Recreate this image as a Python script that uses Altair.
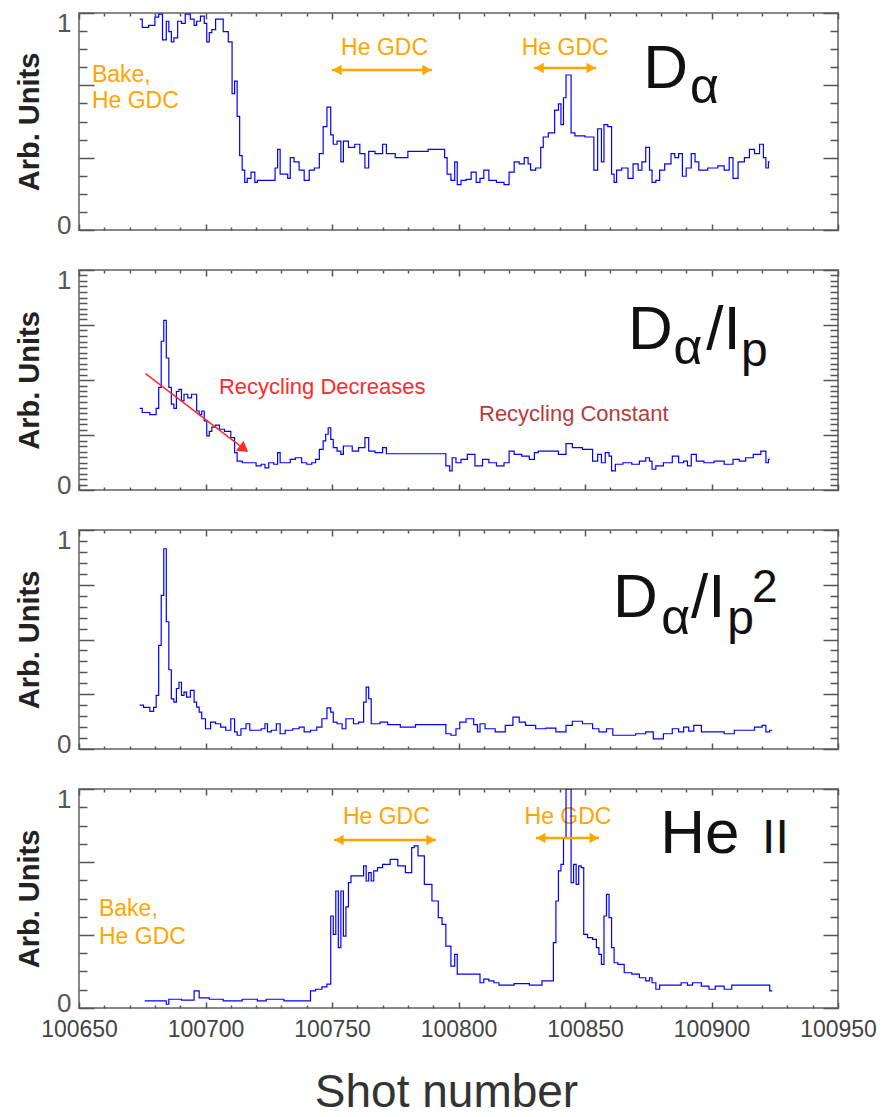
import altair as alt
import pandas as pd

# ------------------------------------------------------------------ data
shot_da = [100674, 100676, 100679, 100681, 100682, 100684, 100685, 100686, 100687, 100688,
           100690, 100691, 100693, 100695, 100696, 100697, 100699, 100700, 100701, 100702,
           100703, 100705, 100706, 100708, 100710, 100711, 100712, 100713, 100714, 100715,
           100716, 100717, 100719, 100720, 100721, 100727, 100728, 100729, 100730, 100732,
           100733, 100734, 100736, 100738, 100740, 100742, 100744, 100746, 100747, 100749,
           100750, 100751, 100753, 100754, 100755, 100758, 100760, 100762, 100764, 100765,
           100769, 100771, 100772, 100778, 100782, 100794, 100795, 100796, 100798, 100799,
           100800, 100802, 100804, 100806, 100808, 100809, 100811, 100813, 100817, 100819,
           100821, 100823, 100825, 100827, 100828, 100829, 100832, 100833, 100834, 100837,
           100839, 100840, 100841, 100842, 100843, 100844, 100845, 100847, 100853, 100854,
           100856, 100857, 100858, 100860, 100861, 100862, 100863, 100866, 100868, 100870,
           100872, 100873, 100875, 100876, 100877, 100879, 100880, 100883, 100885, 100886,
           100888, 100889, 100891, 100893, 100894, 100896, 100901, 100904, 100906, 100908,
           100909, 100912, 100914, 100916, 100918, 100920, 100921, 100922, 100923]
val_da = [1.02, 0.98, 0.99, 1.03, 1.045, 0.92, 1.01, 0.96, 0.91, 0.93,
          1.01, 1.00, 1.045, 1.02, 0.99, 1.01, 1.035, 1.00, 0.91, 0.955,
          0.97, 1.02, 1.02, 0.96, 0.91, 0.66, 0.72, 0.55, 0.36, 0.29,
          0.23, 0.25, 0.28, 0.23, 0.24, 0.24, 0.30, 0.39, 0.27, 0.27,
          0.25, 0.35, 0.33, 0.29, 0.24, 0.29, 0.30, 0.37, 0.50, 0.595,
          0.46, 0.415, 0.43, 0.33, 0.43, 0.40, 0.415, 0.37, 0.30, 0.38,
          0.37, 0.415, 0.37, 0.35, 0.38, 0.39, 0.35, 0.27, 0.24, 0.33,
          0.22, 0.24, 0.245, 0.28, 0.23, 0.25, 0.29, 0.24, 0.23, 0.22,
          0.28, 0.33, 0.32, 0.35, 0.32, 0.29, 0.30, 0.40, 0.45, 0.47,
          0.58, 0.61, 0.51, 0.64, 0.75, 0.75, 0.47, 0.455, 0.45, 0.29,
          0.49, 0.33, 0.51, 0.50, 0.27, 0.23, 0.29, 0.30, 0.25, 0.32,
          0.29, 0.33, 0.40, 0.29, 0.23, 0.24, 0.29, 0.32, 0.37, 0.35,
          0.37, 0.26, 0.30, 0.37, 0.33, 0.29, 0.30, 0.31, 0.29, 0.35,
          0.25, 0.33, 0.35, 0.39, 0.37, 0.415, 0.35, 0.30, 0.33]

shot_dip = [100674, 100676, 100680, 100681, 100682, 100683, 100684, 100685, 100686, 100687,
            100688, 100689, 100690, 100691, 100692, 100694, 100695, 100696, 100697, 100698,
            100699, 100700, 100701, 100702, 100703, 100705, 100706, 100709, 100711, 100712,
            100713, 100716, 100719, 100721, 100723, 100724, 100726, 100728, 100729, 100730,
            100733, 100734, 100737, 100739, 100741, 100743, 100744, 100746, 100747, 100748,
            100749, 100750, 100751, 100753, 100754, 100755, 100757, 100759, 100762, 100764,
            100765, 100769, 100771, 100772, 100794, 100796, 100797, 100798, 100800, 100802,
            100805, 100808, 100811, 100813, 100817, 100819, 100821, 100823, 100827, 100829,
            100831, 100832, 100838, 100841, 100844, 100846, 100852, 100854, 100856, 100857,
            100859, 100860, 100861, 100863, 100867, 100870, 100873, 100875, 100876, 100877,
            100879, 100883, 100886, 100888, 100890, 100891, 100893, 100895, 100899, 100903,
            100907, 100910, 100912, 100915, 100918, 100921, 100922, 100923]
val_dip = [0.39, 0.37, 0.36, 0.39, 0.49, 0.71, 0.81, 0.63, 0.49, 0.41,
           0.39, 0.47, 0.48, 0.425, 0.457, 0.44, 0.457, 0.457, 0.377, 0.36,
           0.377, 0.33, 0.258, 0.28, 0.30, 0.31, 0.29, 0.28, 0.25, 0.178,
           0.138, 0.13, 0.13, 0.115, 0.123, 0.106, 0.13, 0.123, 0.178, 0.13,
           0.13, 0.146, 0.154, 0.13, 0.123, 0.13, 0.146, 0.194, 0.234, 0.266,
           0.297, 0.242, 0.202, 0.186, 0.17, 0.21, 0.21, 0.186, 0.202, 0.25,
           0.186, 0.178, 0.202, 0.173, 0.173, 0.115, 0.091, 0.154, 0.13, 0.146,
           0.17, 0.115, 0.146, 0.13, 0.115, 0.13, 0.186, 0.17, 0.162, 0.146,
           0.178, 0.186, 0.186, 0.17, 0.221, 0.202, 0.194, 0.138, 0.17, 0.13,
           0.178, 0.162, 0.091, 0.123, 0.13, 0.123, 0.138, 0.154, 0.138, 0.099,
           0.115, 0.13, 0.162, 0.13, 0.138, 0.115, 0.17, 0.138, 0.13, 0.138,
           0.123, 0.146, 0.138, 0.154, 0.17, 0.186, 0.13, 0.146]

shot_dip2 = [100674, 100677, 100679, 100680, 100681, 100682, 100683, 100684, 100685, 100686,
             100687, 100688, 100689, 100690, 100691, 100692, 100693, 100695, 100696, 100697,
             100698, 100699, 100701, 100703, 100705, 100707, 100709, 100711, 100712, 100713,
             100715, 100717, 100718, 100721, 100723, 100724, 100725, 100727, 100729, 100730,
             100733, 100736, 100738, 100740, 100743, 100745, 100747, 100749, 100750, 100751,
             100753, 100755, 100756, 100758, 100759, 100762, 100763, 100764, 100765, 100766,
             100767, 100771, 100773, 100781, 100785, 100794, 100796, 100798, 100800, 100801,
             100805, 100807, 100808, 100809, 100812, 100817, 100820, 100823, 100825, 100828,
             100833, 100836, 100841, 100844, 100846, 100852, 100854, 100857, 100860, 100862,
             100867, 100873, 100875, 100879, 100883, 100886, 100888, 100890, 100892, 100894,
             100898, 100903, 100907, 100911, 100915, 100919, 100921, 100922, 100924]
val_dip2 = [0.21, 0.20, 0.18, 0.20, 0.257, 0.497, 0.737, 0.96, 0.61, 0.38,
            0.24, 0.225, 0.29, 0.32, 0.257, 0.273, 0.249, 0.281, 0.225, 0.201,
            0.177, 0.145, 0.097, 0.129, 0.121, 0.105, 0.09, 0.145, 0.082, 0.066,
            0.097, 0.121, 0.09, 0.09, 0.097, 0.121, 0.082, 0.09, 0.121, 0.073,
            0.09, 0.097, 0.105, 0.082, 0.09, 0.105, 0.145, 0.197, 0.177, 0.129,
            0.121, 0.097, 0.145, 0.145, 0.121, 0.129, 0.225, 0.297, 0.241, 0.121,
            0.121, 0.129, 0.117, 0.105, 0.117, 0.117, 0.073, 0.066, 0.097, 0.129,
            0.145, 0.117, 0.082, 0.121, 0.097, 0.082, 0.113, 0.153, 0.129, 0.113,
            0.097, 0.10, 0.082, 0.113, 0.133, 0.121, 0.097, 0.082, 0.097, 0.066,
            0.066, 0.073, 0.082, 0.049, 0.073, 0.097, 0.082, 0.105, 0.086, 0.113,
            0.082, 0.082, 0.073, 0.09, 0.09, 0.105, 0.113, 0.082, 0.09]

shot_he = [100676, 100684, 100685, 100686, 100695, 100696, 100697, 100698, 100705, 100709,
           100720, 100721, 100727, 100730, 100732, 100741, 100742, 100745, 100747, 100749,
           100750, 100751, 100752, 100753, 100754, 100755, 100756, 100757, 100758, 100762,
           100763, 100764, 100765, 100766, 100767, 100769, 100771, 100775, 100777, 100781,
           100782, 100783, 100785, 100788, 100791, 100793, 100794, 100796, 100798, 100799,
           100800, 100808, 100809, 100811, 100813, 100815, 100817, 100827, 100829, 100837,
           100838, 100839, 100840, 100841, 100842, 100843, 100844, 100845, 100846, 100847,
           100848, 100849, 100850, 100852, 100854, 100855, 100856, 100857, 100858, 100859,
           100860, 100861, 100862, 100864, 100867, 100870, 100873, 100875, 100876, 100877,
           100879, 100880, 100886, 100890, 100891, 100894, 100898, 100900, 100903, 100907,
           100909, 100922, 100924]
val_he = [0.034, 0.034, 0.018, 0.042, 0.038, 0.082, 0.082, 0.049, 0.042, 0.034,
          0.042, 0.034, 0.042, 0.042, 0.034, 0.034, 0.082, 0.09, 0.101, 0.114,
          0.441, 0.353, 0.561, 0.289, 0.561, 0.345, 0.485, 0.601, 0.633, 0.633,
          0.681, 0.609, 0.649, 0.609, 0.657, 0.673, 0.689, 0.713, 0.681, 0.649,
          0.769, 0.777, 0.729, 0.593, 0.513, 0.433, 0.401, 0.297, 0.201, 0.257,
          0.162, 0.162, 0.121, 0.138, 0.13, 0.121, 0.11, 0.117, 0.11, 0.13,
          0.313, 0.513, 0.657, 0.689, 0.817, 1.05, 1.05, 0.601, 0.689, 0.593,
          0.681, 0.673, 0.353, 0.337, 0.329, 0.289, 0.257, 0.209, 0.441, 0.545,
          0.433, 0.289, 0.217, 0.209, 0.169, 0.162, 0.145, 0.13, 0.145, 0.121,
          0.09, 0.11, 0.11, 0.121, 0.11, 0.121, 0.105, 0.09, 0.105, 0.09,
          0.11, 0.11, 0.082]

x_tick_values = list(range(100650, 100951, 10))

# ------------------------------------------------------------------ style
XMIN, XMAX = 100650, 100950
YTOP = 1.05
W = 759
FONT = "Liberation Sans"
ORANGE = "#FFA500"
BLUE = "#0000FF"
BLACK = "#111111"
RED = "#FF2A2A"
DARKRED = "#B83A3A"
TICKC = "#555555"

xscale = alt.Scale(domain=[XMIN, XMAX], nice=False, zero=False)
yscale = alt.Scale(domain=[0, YTOP], nice=False, zero=False)


def y_axis(n, m, maj, mnr):
    ticks = [YTOP * k / n for k in range(n + 1)] + [1.0]
    major = YTOP * m / n
    shown = "(abs(datum.value - 1) < 0.0001 || datum.value == 0)"
    return alt.Axis(
        values=ticks, grid=True, ticks=False, domain=False,
        gridColor=TICKC, gridWidth=1.5,
        gridDash={"condition": {"test": f"abs(datum.value/{major} - round(datum.value/{major})) < 0.001",
                                "value": [maj, W - 2 * maj, maj, 3000]},
                  "value": [mnr, W - 2 * mnr, mnr, 3000]},
        gridOpacity={"condition": {"test": "abs(datum.value - 1) < 0.0001", "value": 0}, "value": 1},
        labelExpr="abs(datum.value - 1) < 0.0001 ? '1' : (datum.value == 0 ? '0' : '')",
        labelFontSize={"condition": {"test": shown, "value": 26}, "value": 0},
        labelOffset={"condition": {"test": "datum.value == 0", "value": -5}, "value": 0},
        labelOverlap=False, labelBound=False, labelFlush=False,
        labelColor="#555555", labelPadding=8, labelFont=FONT,
        title="Arb. Units", titleFontSize=29, titleFontWeight="bold", titleColor="#222222",
        titlePadding=12, titleFont=FONT)


def x_axis(H, bottom):
    kw = dict(values=x_tick_values, grid=True, ticks=False, domain=False,
              gridColor=TICKC, gridWidth=1.5,
              gridDash={"condition": {"test": "datum.value % 50 === 0",
                                      "value": [6, H - 12, 6, 3000]},
                        "value": [3, H - 6, 3, 3000]})
    if bottom:
        kw.update(labels=True, format="d",
                  labelExpr="datum.value % 50 === 0 ? datum.label : ''",
                  labelFontSize={"condition": {"test": "datum.value % 50 === 0", "value": 23}, "value": 0},
                  labelOverlap=False, labelBound=False, labelFlush=False,
                  labelColor="#444444", labelPadding=10, labelFont=FONT,
                  title="Shot number", titleFontSize=46, titleFontWeight="normal",
                  titleColor="#333333", titlePadding=29, titleFont=FONT, titleX=367)
    else:
        kw.update(labels=False, title=None)
    return alt.Axis(**kw)


def panel(shots, vals, H, n, m, texts, arrows=None, red=None, bottom=False):
    xa = x_axis(H, bottom)
    ya = y_axis(n, m, 15, 8)

    def X(f):
        return alt.X(f, scale=xscale, axis=xa)

    def Y(f):
        return alt.Y(f, scale=yscale, axis=ya)

    df = pd.DataFrame({"shot": shots, "v": vals})
    line = alt.Chart(df).mark_line(interpolate="step", color=BLUE, strokeWidth=1.2, clip=True).encode(
        x=X("shot:Q"), y=Y("v:Q"))
    tdf = pd.DataFrame(texts, columns=["text", "shot", "v", "color", "size"])
    txt = alt.Chart(tdf).mark_text(align="left", baseline="alphabetic", font=FONT).encode(
        x=X("shot:Q"), y=Y("v:Q"),
        text="text:N",
        color=alt.Color("color:N", scale=None),
        size=alt.Size("size:Q", scale=None),
    )
    layers = [txt, line]
    if arrows:
        adf = pd.DataFrame(arrows, columns=["x1", "x2", "v"])
        layers.append(alt.Chart(adf).mark_rule(color=ORANGE, strokeWidth=2.5).encode(
            x=X("x1:Q"), x2="x2:Q", y=Y("v:Q")))
        heads = []
        for a, b, v in arrows:
            heads.append((a + 2.0, v, "triangle-left"))
            heads.append((b - 2.0, v, "triangle-right"))
        hdf = pd.DataFrame(heads, columns=["shot", "v", "shape"])
        layers.append(alt.Chart(hdf).mark_point(filled=True, size=110, opacity=1, color=ORANGE).encode(
            x=X("shot:Q"), y=Y("v:Q"),
            shape=alt.Shape("shape:N", scale=None)))
    if red:
        (x1, y1), (x2, y2), ang = red
        rdf = pd.DataFrame({"x1": [x1], "x2": [x2], "y1": [y1], "y2": [y2]})
        layers.append(alt.Chart(rdf).mark_rule(color=RED, strokeWidth=1.5).encode(
            x=X("x1:Q"), x2="x2:Q", y=Y("y1:Q"), y2="y2:Q"))
        pdf = pd.DataFrame({"shot": [x2], "v": [y2]})
        layers.append(alt.Chart(pdf).mark_point(filled=True, size=150, opacity=1, color=RED,
                                                shape="triangle-right", angle=ang).encode(
            x=X("shot:Q"), y=Y("v:Q")))
    return alt.layer(*layers).properties(width=W, height=H)


p1 = panel(shot_da, val_da, 217, 12, 4,
           [("Bake,", 100655.1, 0.718, ORANGE, 23), ("He GDC", 100655.1, 0.589, ORANGE, 23),
            ("He GDC", 100753.6, 0.847, ORANGE, 23), ("He GDC", 100825.0, 0.847, ORANGE, 23),
            ("D", 100873.0, 0.687, BLACK, 62), ("α", 100891.5, 0.615, BLACK, 50)],
           arrows=[(100750.0, 100789.5, 0.774), (100829.9, 100854.4, 0.784)])

p2 = panel(shot_dip, val_dip, 220, 40, 10,
           [("Recycling Decreases", 100705.3, 0.457, RED, 22),
            ("Recycling Constant", 100808.1, 0.329, DARKRED, 22),
            ("D", 100867.0, 0.673, BLACK, 62), ("α", 100885.0, 0.601, BLACK, 50),
            ("/I", 100897.9, 0.673, BLACK, 62), ("p", 100911.7, 0.592, BLACK, 48)],
           red=((100676.3, 0.555), (100715.2, 0.196), 37))

p3 = panel(shot_dip2, val_dip2, 219, 20, 5,
           [("D", 100861.1, 0.633, BLACK, 62), ("α", 100880.1, 0.551, BLACK, 50),
            ("/I", 100891.9, 0.633, BLACK, 62), ("p", 100906.2, 0.551, BLACK, 48),
            ("2", 100916.0, 0.705, BLACK, 46)])

p4 = panel(shot_he, val_he, 219, 12, 4,
           [("Bake,", 100657.9, 0.441, ORANGE, 23), ("He GDC", 100657.9, 0.308, ORANGE, 23),
            ("He GDC", 100754.3, 0.884, ORANGE, 23), ("He GDC", 100826.1, 0.884, ORANGE, 23),
            ("He", 100879.7, 0.743, BLACK, 62), ("II", 100920.0, 0.743, BLACK, 48)],
           arrows=[(100750.8, 100791.1, 0.806), (100830.6, 100855.6, 0.815)],
           bottom=True)

chart = alt.vconcat(p1, p2, p3, p4, spacing=40, bounds="flush").properties(
    padding={"left": 6, "top": 1, "right": 0, "bottom": 0}
).configure(font=FONT).configure_view(stroke="#888888", strokeWidth=2)

chart.save("out.html", embed_options={"renderer": "svg", "actions": False})
